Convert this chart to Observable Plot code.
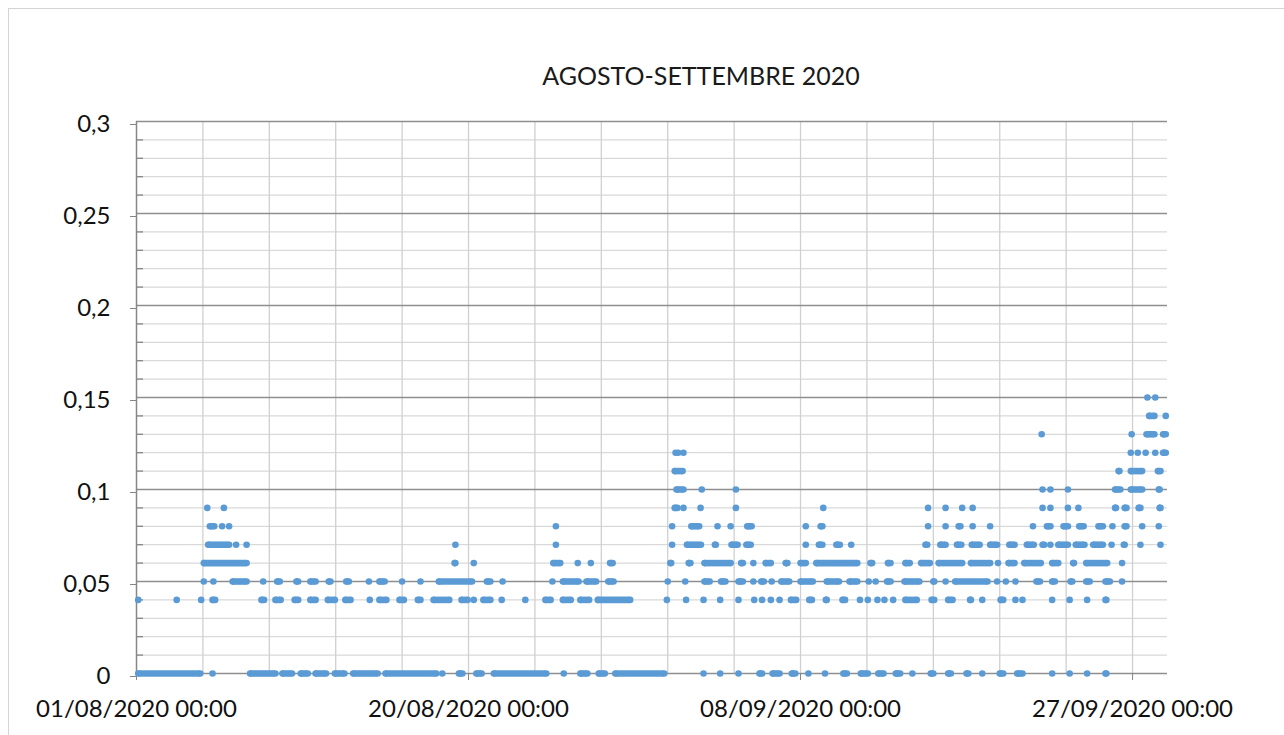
<!DOCTYPE html>
<html>
<head>
<meta charset="utf-8">
<script src="https://cdn.jsdelivr.net/npm/d3@7"></script>
<script src="https://cdn.jsdelivr.net/npm/@observablehq/plot@0.6"></script>
<style>
  html, body { margin: 0; padding: 0; background: #fff; }
  body { width: 1284px; height: 735px; overflow: hidden; position: relative; font-family: Lato, "Open Sans", sans-serif; }
  #frame { position: absolute; left: 8px; top: 8px; width: 1400px; height: 900px; border-top: 1px solid #d4d4d4; border-left: 1px solid #d4d4d4; }
  #title { position: absolute; left: 0; top: 63px; width: 1402px; text-align: center; font-size: 25px; line-height: 25px; color: #1a1a1a; white-space: nowrap; }
  #chart { position: absolute; left: 0; top: 0; }
</style>
</head>
<body>
<div id="frame"></div>
<div id="chart"></div>
<div id="title">AGOSTO-SETTEMBRE 2020</div>
<script>
// ---- data: days after 01/08/2020 00:00; a number is one reading, [a, b] a run of consecutive readings ----
const v000 = [[0.1,3.65], 4.35, [6.5,7.95], [8.35,8.9], [9.4,9.8], [10.25,10.85], [11.35,11.9], [12.4,13.8], [14.25,17.15], 17.5, [18.45,18.65], [19.45,19.75], [20.45,23.45], 24.45, [25.4,25.8], [26.45,26.8], [27.4,30.2], 32.45, 33.4, 34.45, [35.65,35.8], [36.4,36.8], [37.5,37.7], 38.45, 39.4, [40.45,40.65], [41.45,41.85], [42.45,42.75], [43.45,43.7], 44.4, [45.45,45.6], [46.45,46.6], [47.5,47.6], 48.4, [49.4,49.6], [50.4,50.7], 52.4, 53.4, 54.4, [55.45,55.5]];
const v004 = [0.1, 2.3, 3.7, [4.35,4.5], [7.15,7.3], [7.95,8.25], [9.05,9.25], [9.95,10.25], [10.95,11.35], [11.95,12.25], 13.35, [13.9,14.3], [15.05,15.3], [16.1,16.25], [17.0,17.9], [18.6,18.95], 19.3, [19.85,20.25], 20.9, 22.25, [23.4,23.7], [24.4,24.85], [25.4,25.9], [26.4,28.25], 30.35, 31.45, 32.45, 33.4, 34.45, 35.35, 35.8, 36.3, 36.8, [37.45,37.75], [38.5,38.65], [39.45,39.5], [40.4,40.55], 41.4, 41.85, 42.4, 42.8, 43.3, [44.0,44.65], [45.5,45.65], [46.45,46.7], [47.7,47.75], 48.4, [49.45,49.6], 50.3, 50.7, 52.4, 53.4, 54.4, [55.45,55.5]];
const v005 = [3.85, 4.4, [5.5,6.3], 7.25, [8.05,8.2], [9.15,9.25], [9.95,10.25], [11.0,11.1], [12.0,12.15], 13.3, [13.9,14.2], 15.2, 16.25, [17.3,19.2], [20.05,20.25], 20.95, 23.8, [24.4,25.3], [25.75,26.3], [27.0,27.3], 30.4, 31.4, [32.5,32.8], [33.45,33.7], [34.45,34.7], 35.3, [35.75,35.9], 36.35, [36.9,37.35], [38.0,38.7], [39.5,40.2], [40.8,41.25], 41.9, 42.3, [42.95,43.15], [43.95,44.8], [45.6,45.65], 46.3, [46.85,48.7], 49.25, 49.75, 50.3, [51.5,51.7], [52.4,52.55], [53.45,53.55], [54.35,54.55], [55.45,55.7], 56.4];
const v006 = [[3.85,6.3], [18.2,18.25], 19.3, [23.85,24.25], 25.25, 26.0, [27.1,27.25], [30.55,30.6], [31.6,31.7], [32.5,34.0], [34.6,34.7], 35.3, [36.0,36.3], [37.15,37.25], [38.0,38.3], [38.9,41.25], [42.0,42.1], [43.0,43.15], [44.0,44.25], [44.9,45.4], [45.9,47.25], [47.75,48.85], 49.3, [49.9,50.25], [50.8,51.75], [52.4,52.75], [53.6,53.65], [54.35,55.55], 56.4];
const v007 = [[4.1,5.3], 5.7, 6.3, 18.25, 24.0, 30.65, [31.5,32.3], [33.1,33.15], [34.05,34.4], [34.9,35.15], 38.3, [39.05,39.25], [40.05,40.25], 40.9, [45.15,45.25], [46.0,46.3], [46.95,47.2], [47.8,48.25], [48.85,49.25], [49.95,50.25], [50.95,51.35], [51.85,51.95], 52.3, [52.75,53.3], [53.75,54.25], [54.75,55.3], 55.8, [56.5,56.55], 57.45, 58.6];
const v008 = [[4.2,4.45], 4.9, 5.3, 24.0, 30.65, [31.75,32.2], 33.25, 34.0, [34.95,35.2], 38.3, [39.15,39.25], 45.3, 46.3, [47.05,47.15], 47.85, 48.85, 51.3, [52.1,52.3], [53.05,53.3], [53.95,54.2], [55.05,55.3], 55.85, [56.55,56.65], 57.55, 58.5];
const v009 = [4.05, 5.0, [30.8,30.95], 31.3, 32.28, 34.3, 39.3, 45.3, 46.3, 47.25, 47.85, 51.85, 52.3, 53.3, 53.9, [56.0,56.05], [56.55,56.65], [57.35,57.45], [58.55,58.6]];
const v010 = [[30.9,31.3], 32.35, 34.3, 51.85, 52.3, 53.3, [56.0,56.3], [56.9,57.55], [58.5,58.55]];
const v011 = [[30.8,31.25], [56.2,56.25], [56.9,57.55], [58.45,58.6]];
const v012 = [30.85, 31.0, 31.3, 56.9, 57.3, 57.75, 58.3, [58.75,58.9]];
const v013 = [51.8, 56.95, [57.8,58.25], [58.75,58.9]];
const v014 = [[57.95,58.25], 58.9];
const v015 = [57.85, 58.3];
const levels = [[0, v000], [0.04, v004], [0.05, v005], [0.06, v006], [0.07, v007], [0.08, v008], [0.09, v009], [0.10, v010], [0.11, v011], [0.12, v012], [0.13, v013], [0.14, v014], [0.15, v015]];

// ---- axes ----
const startDate = Date.UTC(2020, 7, 1);
const domainDays = [0, 59];
const xTickDays = [0, 19, 38, 57];               // 01/08, 20/08, 08/09, 27/09
const xGridDays = [3.8, 7.6, 11.4, 15.2, 19, 22.8, 26.6, 30.4, 34.2, 38, 41.8, 45.6, 49.4, 53.2, 57];
const yMajor = [0, 0.05, 0.1, 0.15, 0.2, 0.25, 0.3];
const yMinor = [0.01, 0.02, 0.03, 0.04, 0.06, 0.07, 0.08, 0.09, 0.11, 0.12, 0.13, 0.14, 0.16, 0.17, 0.18, 0.19, 0.21, 0.22, 0.23, 0.24, 0.26, 0.27, 0.28, 0.29];

const toDate = d => new Date(startDate + d * 864e5);
const rows = [];
for (const [y, arr] of levels) for (const e of arr) {
  const [a, b] = Array.isArray(e) ? e : [e, e];
  rows.push({x1: toDate(a), x2: toDate(b), y});
}
const runs = rows.filter(r => r.x2 > r.x1);
const pts = rows.flatMap(r => r.x2 > r.x1 ? [{x: r.x1, y: r.y}, {x: r.x2, y: r.y}] : [{x: r.x1, y: r.y}]);

const blue = "#5b9bd5";
const fmtDate = d3.utcFormat("%d/%m/%Y %H:%M");
const fmtNum = d => String(d).replace(".", ",");

const chart = Plot.plot({
  width: 1284, height: 735,
  marginLeft: 136, marginRight: 117, marginTop: 121, marginBottom: 62,
  style: {fontFamily: "Lato, 'Open Sans', sans-serif", background: "transparent"},
  x: {type: "utc", domain: domainDays.map(toDate), axis: null, label: null},
  y: {domain: [0, 0.3], axis: null, label: null},
  marks: [
    Plot.ruleY(yMinor, {stroke: "#d9d9d9", strokeWidth: 1.3}),
    Plot.ruleX(xGridDays.map(toDate), {stroke: "#d0d0d0", strokeWidth: 1.3}),
    Plot.ruleY(yMajor, {stroke: "#8e8e8e", strokeWidth: 1.3}),
    Plot.ruleX([toDate(0)], {stroke: "#868686", strokeWidth: 1.5}),
    Plot.tickY(yMinor, {stroke: "#868686", strokeWidth: 1.3, insetRight: 1024}),
    Plot.axisY({ticks: yMajor, tickFormat: fmtNum, tickSize: 6, tickPadding: 20, fontSize: 24, stroke: "#868686", fill: "#111", dy: 3, label: null}),
    Plot.axisX({ticks: xTickDays.map(toDate), tickFormat: fmtDate, tickSize: 7, tickPadding: 19, fontSize: 24, stroke: "#868686", fill: "#111", label: null}),
    Plot.ruleY(runs, {x1: "x1", x2: "x2", y: "y", stroke: blue, strokeWidth: 6.6}),
    Plot.dot(pts, {x: "x", y: "y", r: 3.3, fill: blue})
  ]
});
document.getElementById("chart").appendChild(chart);
</script>
</body>
</html>
